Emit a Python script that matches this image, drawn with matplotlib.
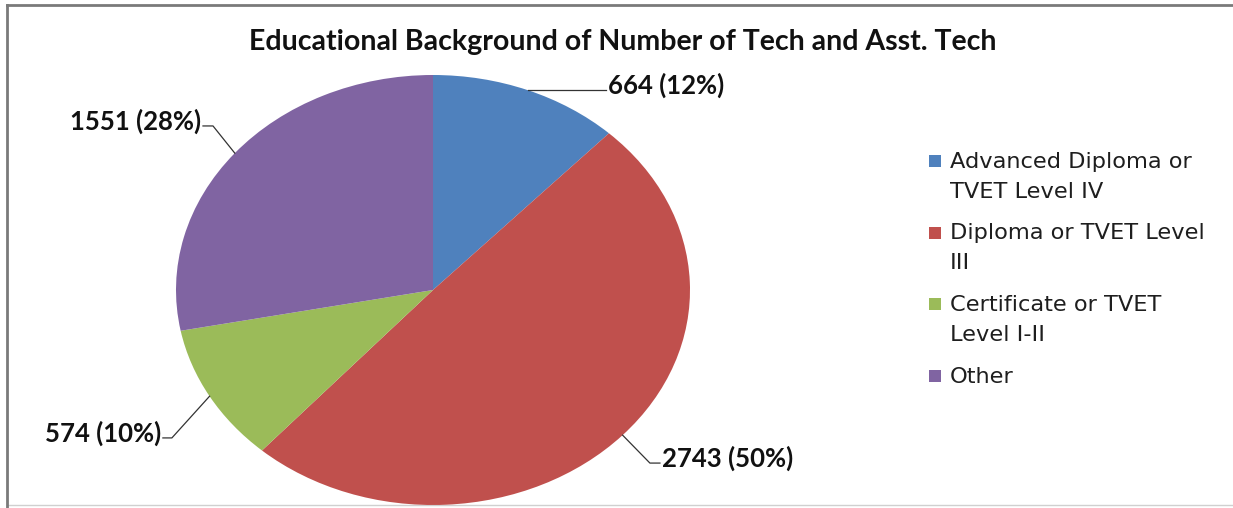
import matplotlib
matplotlib.use("Agg")
import matplotlib.pyplot as plt
from matplotlib.lines import Line2D
from matplotlib.patches import Rectangle
import numpy as np

# Data
title = "Educational Background of Number of Tech and Asst. Tech"
categories = [
    "Advanced Diploma or\nTVET Level IV",
    "Diploma or TVET Level\nIII",
    "Certificate or TVET\nLevel I-II",
    "Other",
]
counts = [664, 2743, 574, 1551]
colors = ["#4F81BD", "#C0504D", "#9BBB59", "#8064A2"]

W, H = 1233, 508
fig = plt.figure(figsize=(W / 100, H / 100), dpi=100)
fig.patch.set_facecolor("white")

# pie area (ellipse) in pixel coordinates
px_left, px_right, px_top, px_bottom = 176, 690, 75, 505
ax = fig.add_axes([px_left / W, (H - px_bottom) / H,
                   (px_right - px_left) / W, (px_bottom - px_top) / H])
wedges, _ = ax.pie(counts, colors=colors, startangle=90, counterclock=False,
                   wedgeprops=dict(linewidth=0))
ax.set_aspect("auto")
ax.set_xlim(-1, 1)
ax.set_ylim(-1, 1)
ax.axis("off")

total = sum(counts)
label_font = dict(family=["Lato", "DejaVu Sans"], weight="bold", size=18.5, color="#111111")

# leader-line elbows and text anchors (data units of the pie axes)
elbows = [None, (0.844, -0.805), (-1.016, -0.688), (-0.856, 0.763)]
ends = [(0.673, None), (0.883, -0.805), (-1.051, -0.688), (-0.895, 0.763)]
aligns = ["left", "left", "right", "right"]

for i, w in enumerate(wedges):
    mid = np.deg2rad((w.theta1 + w.theta2) / 2)
    ex, ey = np.cos(mid), np.sin(mid)
    pct = round(100 * counts[i] / total)
    txt = f"{counts[i]} ({pct}%)"
    if elbows[i] is None:
        xs = [ex, ends[i][0]]
        ys = [ey, ey]
        ty = ey
    else:
        xs = [ex, elbows[i][0], ends[i][0]]
        ys = [ey, elbows[i][1], ends[i][1]]
        ty = ends[i][1]
    ax.add_line(Line2D(xs, ys, color="#333333", lw=0.9, clip_on=False))
    off = 0.008 if aligns[i] == "left" else -0.008
    ax.text(ends[i][0] + off, ty + 0.02, txt, ha=aligns[i], va="center",
            clip_on=False, **label_font)

# title
fig.text(623 / W, 1 - 42 / H, title, ha="center", va="center",
         family=["Lato", "DejaVu Sans"], weight="bold", size=20.5, color="#111111")

# legend: one square per category, label lines drawn one by one
first_line_y = 160
entry_step = 71.7
line_step = 30
cap_half = 7.5
for i, lab in enumerate(categories):
    yc = first_line_y + i * entry_step
    fig.patches.append(Rectangle((929 / W, 1 - (yc + 7) / H), 12 / W, 12 / H,
                                 transform=fig.transFigure, facecolor=colors[i],
                                 edgecolor="none"))
    for j, line in enumerate(lab.split("\n")):
        fig.text(950 / W, 1 - (yc + cap_half + j * line_step) / H, line,
                 ha="left", va="baseline", family=["DejaVu Sans"], size=16.2,
                 color="#1e1e1e")

# chart frame
fig.add_artist(Line2D([7 / W, 7 / W], [0, 1 - 5 / H], transform=fig.transFigure,
                      color="#7a7a7a", lw=2))
fig.add_artist(Line2D([7 / W, 1], [1 - 5 / H, 1 - 5 / H], transform=fig.transFigure,
                      color="#7a7a7a", lw=2))
fig.add_artist(Line2D([7 / W, 1], [1 - 505 / H, 1 - 505 / H], transform=fig.transFigure,
                      color="#d0d0d0", lw=1, zorder=0))

fig.savefig("out.png", dpi=100, facecolor="white")
